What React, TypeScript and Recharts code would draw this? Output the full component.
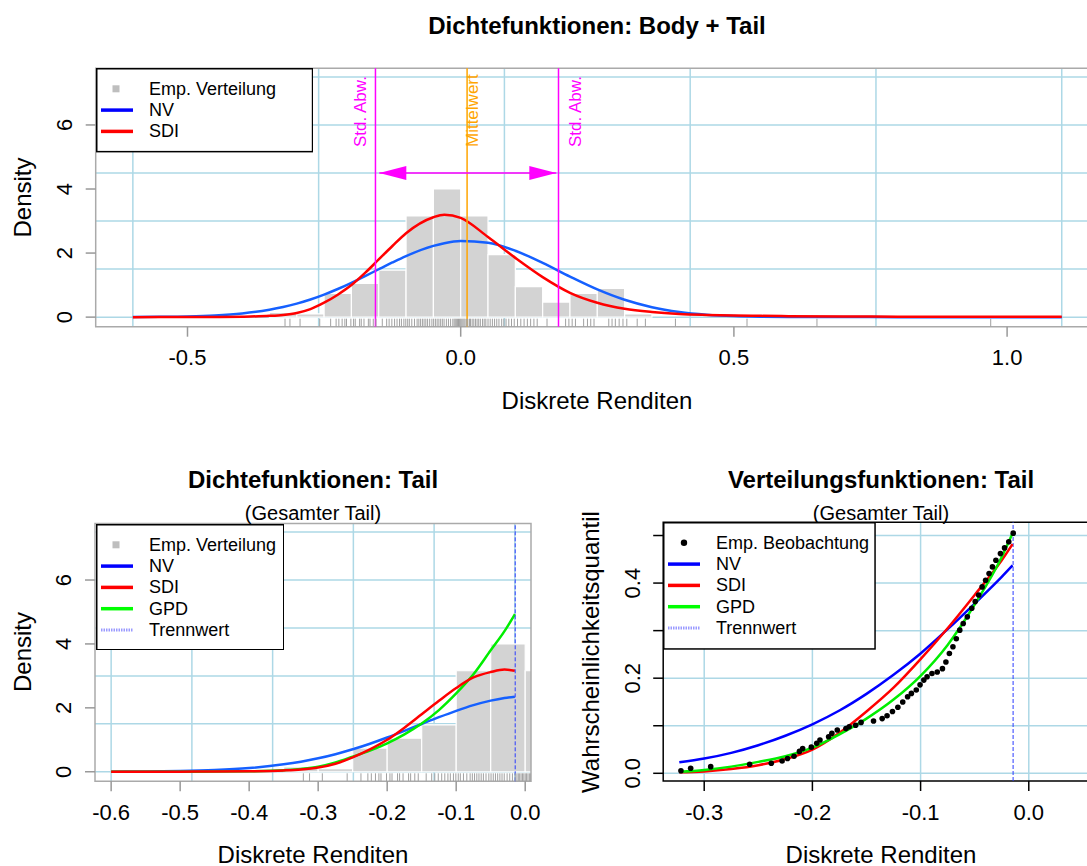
import React from 'react';
import {
  ComposedChart,
  Line,
  Scatter,
  XAxis,
  YAxis,
  CartesianGrid,
  ReferenceLine,
  ReferenceArea,
} from 'recharts';

const FONT = '"Liberation Sans", Arial, Helvetica, sans-serif';

// ---- top panel: densities body + tail ----
const DENS_X = [-0.6, -0.55, -0.5, -0.45, -0.4, -0.35, -0.325, -0.3, -0.275, -0.25, -0.225, -0.2, -0.175, -0.15, -0.125, -0.1, -0.05, -0.03, 0, 0.05, 0.1, 0.15, 0.2, 0.25, 0.3, 0.35, 0.4, 0.45, 0.5, 0.55, 0.6, 0.7, 0.8, 0.9, 1.0, 1.1];
const NV_DENS = [0.003, 0.009, 0.022, 0.053, 0.116, 0.232, 0.316, 0.422, 0.55, 0.703, 0.878, 1.072, 1.28, 1.495, 1.707, 1.907, 2.225, 2.309, 2.376, 2.321, 2.073, 1.694, 1.266, 0.866, 0.542, 0.31, 0.162, 0.078, 0.034, 0.014, 0.005, 0.001, 0, 0, 0, 0];
const SDI_DENS = [0, 0.001, 0.003, 0.006, 0.014, 0.04, 0.07, 0.13, 0.25, 0.45, 0.7, 1.0, 1.38, 1.8, 2.22, 2.62, 3.12, 3.2, 3.1, 2.5, 1.85, 1.25, 0.76, 0.45, 0.26, 0.16, 0.1, 0.07, 0.05, 0.04, 0.03, 0.02, 0.015, 0.012, 0.01, 0.008];

// histogram (bin width 0.05)
const BIN_EDGES = [-0.35, -0.3, -0.25, -0.2, -0.15, -0.1, -0.05, 0, 0.05, 0.1, 0.15, 0.2, 0.25, 0.3, 0.35];
const BIN_DENS = [0.15, 0.1, 0.74, 1.05, 1.47, 3.16, 4.0, 3.16, 1.95, 0.95, 0.47, 0.74, 0.9, 0.1];

const MEAN = 0.0117;
const SD_LINES = [-0.156, 0.179];
const ARROW_X = [-0.149, 0.175];
const ARROW_Y = 4.5;

const TOP_GRID_X = [-0.6, -0.26, 0.08, 0.42, 0.76, 1.1];
const DENS_GRID_Y = [0, 1.5, 3, 4.5, 6, 7.5];

// ---- bottom left: tail densities ----
const TAIL_X = [-0.6, -0.55, -0.5, -0.45, -0.4, -0.35, -0.325, -0.3, -0.275, -0.25, -0.225, -0.2, -0.175, -0.15, -0.125, -0.1, -0.075, -0.05, -0.03, -0.015];
const NV_TAIL = [0.003, 0.009, 0.022, 0.053, 0.116, 0.232, 0.316, 0.422, 0.55, 0.703, 0.878, 1.072, 1.28, 1.495, 1.707, 1.907, 2.084, 2.225, 2.309, 2.35];
const SDI_TAIL = [0, 0.001, 0.003, 0.006, 0.014, 0.04, 0.07, 0.13, 0.25, 0.45, 0.7, 1.0, 1.38, 1.8, 2.22, 2.62, 2.95, 3.12, 3.2, 3.16];
const GPD_TAIL = [0, 0, 0.001, 0.004, 0.012, 0.045, 0.09, 0.16, 0.29, 0.47, 0.66, 0.89, 1.17, 1.51, 1.93, 2.45, 3.05, 3.8, 4.4, 4.93];
const TAIL_GRID_X = [-0.6, -0.483, -0.366, -0.249, -0.132, -0.015];
const TRENNWERT = -0.0145;

// ---- bottom right: tail distribution functions ----
const CDF_X = [-0.323, -0.3, -0.275, -0.25, -0.225, -0.2, -0.175, -0.15, -0.125, -0.1, -0.075, -0.05, -0.025, -0.015];
const NV_CDF = [0.023, 0.031, 0.043, 0.059, 0.079, 0.103, 0.132, 0.167, 0.207, 0.252, 0.303, 0.357, 0.413, 0.437];
const SDI_CDF = [0.002, 0.004, 0.009, 0.017, 0.03, 0.05, 0.085, 0.13, 0.18, 0.24, 0.305, 0.375, 0.448, 0.482];
const GPD_CDF = [0.003, 0.007, 0.014, 0.024, 0.036, 0.054, 0.082, 0.115, 0.155, 0.205, 0.27, 0.355, 0.455, 0.505];
const EMP_X = [-0.3215, -0.3125, -0.294, -0.258, -0.238, -0.228, -0.223, -0.217, -0.212, -0.209, -0.201, -0.196, -0.193, -0.185, -0.182, -0.177, -0.169, -0.166, -0.16, -0.155, -0.1435, -0.1355, -0.131, -0.126, -0.121, -0.1165, -0.112, -0.1085, -0.104, -0.1005, -0.097, -0.094, -0.0895, -0.0846, -0.0798, -0.0766, -0.0734, -0.0701, -0.067, -0.0638, -0.0606, -0.0568, -0.0527, -0.0495, -0.0463, -0.0431, -0.0399, -0.0367, -0.0336, -0.0304, -0.0262, -0.0224, -0.0185, -0.0144];
const EMP_Y = [0.0055, 0.0105, 0.014, 0.019, 0.021, 0.026, 0.031, 0.036, 0.046, 0.052, 0.055, 0.063, 0.07, 0.077, 0.084, 0.091, 0.094, 0.098, 0.101, 0.107, 0.11, 0.115, 0.121, 0.13, 0.139, 0.15, 0.161, 0.168, 0.175, 0.186, 0.196, 0.203, 0.21, 0.213, 0.22, 0.234, 0.252, 0.266, 0.283, 0.301, 0.315, 0.329, 0.347, 0.361, 0.375, 0.392, 0.406, 0.42, 0.434, 0.448, 0.462, 0.474, 0.487, 0.505];
const CDF_GRID_X = [-0.3, -0.2, -0.1, 0.0];
const CDF_GRID_Y = [0, 0.1, 0.2, 0.3, 0.4, 0.5];

// rug: observations above the threshold (tail ones come from EMP_X)
const RUG_BODY = [-0.012, -0.01, -0.008, -0.006, -0.004, -0.002, 0.0, 0.002, 0.004, 0.006, 0.008, 0.011, 0.013, 0.016, 0.018, 0.021, 0.024, 0.027, 0.03, 0.033, 0.036, 0.04, 0.043, 0.046, 0.05, 0.054, 0.058, 0.062, 0.066, 0.07, 0.075, 0.079, 0.083, 0.088, 0.093, 0.098, 0.104, 0.11, 0.116, 0.122, 0.128, 0.134, 0.14, 0.158, 0.192, 0.198, 0.204, 0.21, 0.225, 0.232, 0.238, 0.244, 0.271, 0.277, 0.283, 0.29, 0.297, 0.304, 0.323, 0.338, 0.393, 0.524, 0.652, 0.97];

const toPts = (xs: number[], ys: number[]) => xs.map((x, i) => ({ x, y: ys[i] }));

const BLUE_D = '#1560ff';
const RED = '#ff0000';
const GREEN = '#00ee00';
const MAGENTA = '#ff00ff';
const ORANGE = '#ffa500';
const GRID = '#add8e6';

function xTick(fmt: (v: number) => string, dy = 21) {
  return (p: any) => (
    <text x={p.x} y={p.y + dy} textAnchor="middle" dominantBaseline="central" fontSize={22} fontFamily={FONT} fill="#000">
      {fmt(p.payload.value)}
    </text>
  );
}

function yTick(fmt: (v: number) => string, dx = -21) {
  return (p: any) => {
    const x = p.x + dx;
    return (
      <text x={x} y={p.y} transform={`rotate(-90 ${x} ${p.y})`} textAnchor="middle" dominantBaseline="central" fontSize={22} fontFamily={FONT} fill="#000">
        {fmt(p.payload.value)}
      </text>
    );
  };
}

function vLabel(text: string, color: string, dx: number) {
  return (p: any) => {
    const vb = p.viewBox || {};
    const x = vb.x + dx;
    const y = vb.y + 78.7;
    return (
      <text x={x} y={y} transform={`rotate(-90 ${x} ${y})`} textAnchor="start" dominantBaseline="central" fontSize={17} fontFamily={FONT} fill={color}>
        {text}
      </text>
    );
  };
}

const rugShape = (p: any) => (
  <line x1={p.cx} x2={p.cx} y1={p.cy} y2={p.cy - 8} stroke="#a0a0a0" strokeWidth={1} />
);

const arrowDot = (p: any) => {
  const { cx, cy, index } = p;
  const L = 27;
  const H = 7;
  const pts = index === 0
    ? `${cx},${cy} ${cx + L},${cy - H} ${cx + L},${cy + H}`
    : `${cx},${cy} ${cx - L},${cy - H} ${cx - L},${cy + H}`;
  return <polygon key={`ah-${index}`} points={pts} fill={MAGENTA} />;
};

type LegendItem = { label: string; kind: 'square' | 'line' | 'dot' | 'dotted'; color: string };

function PlotLegend({ left, top, width, height, items }: { left: number; top: number; width: number; height: number; items: LegendItem[] }) {
  return (
    <svg style={{ position: 'absolute', left, top }} width={width} height={height}>
      <rect x={0.75} y={0.75} width={width - 1.5} height={height - 1.5} fill="#fff" stroke="#000" strokeWidth={1.5} />
      {items.map((it, i) => {
        const y = 20.8 + i * 21.3;
        return (
          <g key={it.label}>
            {it.kind === 'square' && <rect x={16.5} y={y - 3.5} width={7} height={7} fill={it.color} />}
            {it.kind === 'dot' && <circle cx={21} cy={y} r={3.2} fill={it.color} />}
            {it.kind === 'line' && <line x1={5} x2={37} y1={y} y2={y} stroke={it.color} strokeWidth={3.5} />}
            {it.kind === 'dotted' && <line x1={5} x2={37} y1={y} y2={y} stroke={it.color} strokeWidth={3} strokeDasharray="1.5 1" />}
            <text x={53} y={y} dominantBaseline="central" fontSize={18} fontFamily={FONT} fill="#000">{it.label}</text>
          </g>
        );
      })}
    </svg>
  );
}

function Txt({ x, y, children, size = 24, bold = false, rotate = false }: any) {
  return (
    <text x={x} y={y} transform={rotate ? `rotate(-90 ${x} ${y})` : undefined} textAnchor="middle" dominantBaseline="central" fontSize={size} fontWeight={bold ? 'bold' : 'normal'} fontFamily={FONT} fill="#000">
      {children}
    </text>
  );
}

const axisCommon = {
  type: 'number' as const,
  allowDataOverflow: true,
  axisLine: false,
  tickSize: 10,
  tickMargin: 0,
  interval: 0 as const,
};

function TopChart() {
  const xDom: [number, number] = [-0.668, 1.168];
  const yDom: [number, number] = [-0.2988, 7.7688];
  const rug = [...EMP_X, ...RUG_BODY].map((x) => ({ x, y: yDom[0] }));
  return (
    <ComposedChart width={1120} height={440} margin={{ top: 68.3, left: 55.7, right: 21.1, bottom: 73.3 }}>
      <CartesianGrid stroke={GRID} strokeWidth={1.5} verticalValues={TOP_GRID_X} horizontalValues={DENS_GRID_Y} />
      <XAxis {...axisCommon} dataKey="x" domain={xDom} ticks={[-0.5, 0, 0.5, 1.0]} height={40} tickLine={{ stroke: '#999', strokeWidth: 1.5 }} tick={xTick((v) => v.toFixed(1))} />
      <YAxis {...axisCommon} dataKey="y" domain={yDom} ticks={[0, 2, 4, 6]} width={40} tickLine={{ stroke: '#999', strokeWidth: 1.5 }} tick={yTick((v) => String(v))} />
      {BIN_DENS.map((h, i) => (
        <ReferenceArea key={`b${i}`} x1={BIN_EDGES[i]} x2={BIN_EDGES[i + 1]} y1={0} y2={h} fill="#d3d3d3" fillOpacity={1} stroke="#fff" strokeWidth={1.2} ifOverflow="hidden" />
      ))}
      <Scatter data={rug} shape={rugShape} isAnimationActive={false} />
      <Line data={toPts(DENS_X, NV_DENS)} dataKey="y" type="monotone" stroke={BLUE_D} strokeWidth={2.5} dot={false} isAnimationActive={false} />
      <Line data={toPts(DENS_X, SDI_DENS)} dataKey="y" type="monotone" stroke={RED} strokeWidth={2.5} dot={false} isAnimationActive={false} />
      <ReferenceLine x={SD_LINES[0]} stroke={MAGENTA} strokeWidth={1.5} label={vLabel('Std. Abw.', MAGENTA, -15)} />
      <ReferenceLine x={SD_LINES[1]} stroke={MAGENTA} strokeWidth={1.5} label={vLabel('Std. Abw.', MAGENTA, 17)} />
      <ReferenceLine x={MEAN} stroke={ORANGE} strokeWidth={1.5} label={vLabel('Mittelwert', ORANGE, 5)} />
      <Line data={ARROW_X.map((x) => ({ x, y: ARROW_Y }))} dataKey="y" type="linear" stroke={MAGENTA} strokeWidth={1.5} dot={arrowDot} isAnimationActive={false} />
      <ReferenceArea x1={xDom[0]} x2={xDom[1]} y1={yDom[0]} y2={yDom[1]} fill="none" stroke="#aaa" strokeWidth={1.5} />
    </ComposedChart>
  );
}

function TailDensityChart() {
  const xDom: [number, number] = [-0.6234, 0.0084];
  const yDom: [number, number] = [-0.2988, 7.7688];
  const rug = [...EMP_X, ...RUG_BODY].filter((x) => x <= xDom[1]).map((x) => ({ x, y: yDom[0] }));
  return (
    <ComposedChart width={560} height={426} margin={{ top: 83.5, left: 55, right: 29, bottom: 44.7 }}>
      <CartesianGrid stroke={GRID} strokeWidth={1.5} verticalValues={TAIL_GRID_X} horizontalValues={DENS_GRID_Y} />
      <XAxis {...axisCommon} dataKey="x" domain={xDom} ticks={[-0.6, -0.5, -0.4, -0.3, -0.2, -0.1, 0]} height={40} tickLine={{ stroke: '#999', strokeWidth: 1.5 }} tick={xTick((v) => v.toFixed(1))} />
      <YAxis {...axisCommon} dataKey="y" domain={yDom} ticks={[0, 2, 4, 6]} width={40} tickLine={{ stroke: '#999', strokeWidth: 1.5 }} tick={yTick((v) => String(v))} />
      {BIN_DENS.map((h, i) =>
        BIN_EDGES[i] < xDom[1] ? (
          <ReferenceArea key={`b${i}`} x1={BIN_EDGES[i]} x2={BIN_EDGES[i + 1]} y1={0} y2={h} fill="#d3d3d3" fillOpacity={1} stroke="#fff" strokeWidth={1.2} ifOverflow="hidden" />
        ) : null,
      )}
      <Scatter data={rug} shape={rugShape} isAnimationActive={false} />
      <Line data={toPts(TAIL_X, NV_TAIL)} dataKey="y" type="monotone" stroke={BLUE_D} strokeWidth={2.5} dot={false} isAnimationActive={false} />
      <Line data={toPts(TAIL_X, GPD_TAIL)} dataKey="y" type="monotone" stroke={GREEN} strokeWidth={2.5} dot={false} isAnimationActive={false} />
      <Line data={toPts(TAIL_X, SDI_TAIL)} dataKey="y" type="monotone" stroke={RED} strokeWidth={2.5} dot={false} isAnimationActive={false} />
      <ReferenceLine x={TRENNWERT} stroke="#2a3cff" strokeWidth={1} strokeDasharray="4 2" />
      <ReferenceArea x1={xDom[0]} x2={xDom[1]} y1={yDom[0]} y2={yDom[1]} fill="none" stroke="#aaa" strokeWidth={1.5} />
    </ComposedChart>
  );
}

function TailCdfChart() {
  const xDom: [number, number] = [-0.3379, 0.0649];
  const yDom: [number, number] = [-0.0162, 0.5278];
  return (
    <ComposedChart width={600} height={426} margin={{ top: 82.3, left: 78.2, right: 46, bottom: 45 }}>
      <CartesianGrid stroke={GRID} strokeWidth={1.5} verticalValues={CDF_GRID_X} horizontalValues={CDF_GRID_Y} />
      <XAxis {...axisCommon} dataKey="x" domain={xDom} ticks={[-0.3, -0.2, -0.1, 0]} height={40} tickLine={{ stroke: '#000', strokeWidth: 1.5 }} tick={xTick((v) => v.toFixed(1))} />
      <YAxis {...axisCommon} dataKey="y" domain={yDom} ticks={[0, 0.1, 0.2, 0.3, 0.4, 0.5]} width={40} tickLine={{ stroke: '#000', strokeWidth: 1.5 }} tick={yTick((v) => (Math.round(v * 10) % 2 === 0 ? v.toFixed(1) : ''))} />
      <ReferenceLine x={TRENNWERT} stroke="#2a3cff" strokeWidth={1} strokeDasharray="4 2" />
      <Line data={toPts(CDF_X, NV_CDF)} dataKey="y" type="monotone" stroke="#0000ff" strokeWidth={2.5} dot={false} isAnimationActive={false} />
      <Line data={toPts(CDF_X, SDI_CDF)} dataKey="y" type="monotone" stroke={RED} strokeWidth={2.5} dot={false} isAnimationActive={false} />
      <Scatter data={toPts(EMP_X, EMP_Y)} shape={(p: any) => <circle cx={p.cx} cy={p.cy} r={2.8} fill="#000" />} isAnimationActive={false} />
      <Line data={toPts(CDF_X, GPD_CDF)} dataKey="y" type="monotone" stroke={GREEN} strokeWidth={2.5} dot={false} isAnimationActive={false} />
      <ReferenceArea x1={xDom[0]} x2={xDom[1]} y1={yDom[0]} y2={yDom[1]} fill="none" stroke="#000" strokeWidth={1.5} />
    </ComposedChart>
  );
}

export default function App() {
  return (
    <div style={{ position: 'absolute', left: 0, top: 0, width: 1087, height: 866, overflow: 'hidden', background: '#fff', fontFamily: FONT }}>
      <div style={{ position: 'absolute', left: 0, top: 0 }}>
        <TopChart />
      </div>
      <div style={{ position: 'absolute', left: 0, top: 440 }}>
        <TailDensityChart />
      </div>
      <div style={{ position: 'absolute', left: 545, top: 440 }}>
        <TailCdfChart />
      </div>
      <svg style={{ position: 'absolute', left: 0, top: 0, pointerEvents: 'none' }} width={1087} height={866}>
        <Txt x={597} y={25} bold>Dichtefunktionen: Body + Tail</Txt>
        <Txt x={597} y={400}>Diskrete Renditen</Txt>
        <Txt x={22} y={197.5} rotate>Density</Txt>

        <Txt x={313} y={479} bold>Dichtefunktionen: Tail</Txt>
        <Txt x={313} y={513} size={20}>(Gesamter Tail)</Txt>
        <Txt x={313} y={854}>Diskrete Renditen</Txt>
        <Txt x={22} y={652} rotate>Density</Txt>

        <Txt x={881} y={479} bold>Verteilungsfunktionen: Tail</Txt>
        <Txt x={881} y={513} size={20}>(Gesamter Tail)</Txt>
        <Txt x={881} y={854}>Diskrete Renditen</Txt>
        <Txt x={590} y={652} rotate>Wahrscheinlichkeitsquantil</Txt>
      </svg>
      <PlotLegend
        left={95.7}
        top={68.3}
        width={217.3}
        height={84.4}
        items={[
          { label: 'Emp. Verteilung', kind: 'square', color: '#bebebe' },
          { label: 'NV', kind: 'line', color: '#0000ff' },
          { label: 'SDI', kind: 'line', color: '#ff0000' },
        ]}
      />
      <PlotLegend
        left={95.6}
        top={523.5}
        width={188.5}
        height={126.5}
        items={[
          { label: 'Emp. Verteilung', kind: 'square', color: '#bebebe' },
          { label: 'NV', kind: 'line', color: '#0000ff' },
          { label: 'SDI', kind: 'line', color: '#ff0000' },
          { label: 'GPD', kind: 'line', color: '#00ff00' },
          { label: 'Trennwert', kind: 'dotted', color: '#9a9aff' },
        ]}
      />
      <PlotLegend
        left={663.2}
        top={522.3}
        width={212.8}
        height={127.7}
        items={[
          { label: 'Emp. Beobachtung', kind: 'dot', color: '#000' },
          { label: 'NV', kind: 'line', color: '#0000ff' },
          { label: 'SDI', kind: 'line', color: '#ff0000' },
          { label: 'GPD', kind: 'line', color: '#00ff00' },
          { label: 'Trennwert', kind: 'dotted', color: '#9a9aff' },
        ]}
      />
    </div>
  );
}
